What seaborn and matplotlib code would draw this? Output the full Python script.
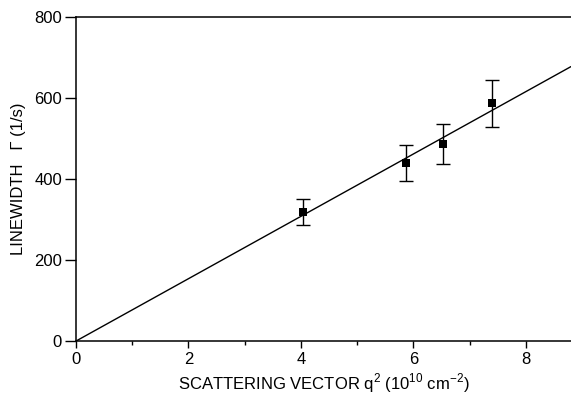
import numpy as np
import pandas as pd
import matplotlib
matplotlib.use("Agg")
import matplotlib.pyplot as plt
import seaborn as sns
from matplotlib.ticker import MultipleLocator

# -----------------------------------------------------------
# DATA
# -----------------------------------------------------------

q2 = [4.04, 5.86, 6.52, 7.39]
linewidth = [319, 439, 486, 587]
err = [32, 44, 49, 58]

fit_q2 = [0.0, 8.8]
fit_gamma = [0.0, 677.0]

X_TICKS = [0, 2, 4, 6, 8]
Y_TICKS = [0, 200, 400, 600, 800]

df = pd.DataFrame({"q2": q2, "gamma": linewidth, "err": err})
fit = pd.DataFrame({"q2": fit_q2, "gamma": fit_gamma})

# -----------------------------------------------------------
# PLOT
# -----------------------------------------------------------

sns.set_style("ticks")
plt.rcParams["font.family"] = ["Liberation Sans", "DejaVu Sans"]
plt.rcParams["mathtext.fontset"] = "custom"
plt.rcParams["mathtext.rm"] = "Liberation Sans"
plt.rcParams["text.color"] = "black"
plt.rcParams["axes.labelcolor"] = "black"
plt.rcParams["xtick.color"] = "black"
plt.rcParams["ytick.color"] = "black"

fig = plt.figure(figsize=(5.71, 3.98), dpi=100)
ax = fig.add_axes([0.133, 0.143, 0.867, 0.815])

sns.lineplot(data=fit, x="q2", y="gamma", color="black", linewidth=1.0, ax=ax)

ax.errorbar(df["q2"], df["gamma"], yerr=df["err"], fmt="none",
            ecolor="black", elinewidth=1.0, capsize=4.8, capthick=1.0)
sns.scatterplot(data=df, x="q2", y="gamma", marker="s", color="black",
                s=30, edgecolor="black", linewidth=0, ax=ax, zorder=3)

ax.set_xlim(0, 8.8)
ax.set_ylim(0, 800)
ax.set_xticks(X_TICKS)
ax.set_yticks(Y_TICKS)
ax.xaxis.set_minor_locator(MultipleLocator(1))

ax.tick_params(axis="both", which="major", labelsize=12, color="black",
               labelcolor="black", width=1.0, direction="out")
ax.tick_params(axis="x", which="major", length=5, pad=3)
ax.tick_params(axis="y", which="major", length=8, pad=2)
ax.tick_params(axis="x", which="minor", length=3, width=1.0)

for side in ["left", "bottom", "top"]:
    ax.spines[side].set_visible(True)
    ax.spines[side].set_linewidth(1.1)
    ax.spines[side].set_color("black")
ax.spines["right"].set_visible(False)

ax.set_xlabel(r"SCATTERING VECTOR q$^{\mathrm{2}}$ (10$^{\mathrm{10}}$ cm$^{\mathrm{-2}}$)",
              fontsize=12, labelpad=3)
ax.set_ylabel("LINEWIDTH   Γ (1/s)", fontsize=12, labelpad=6)

fig.savefig("out.png", dpi=100)
